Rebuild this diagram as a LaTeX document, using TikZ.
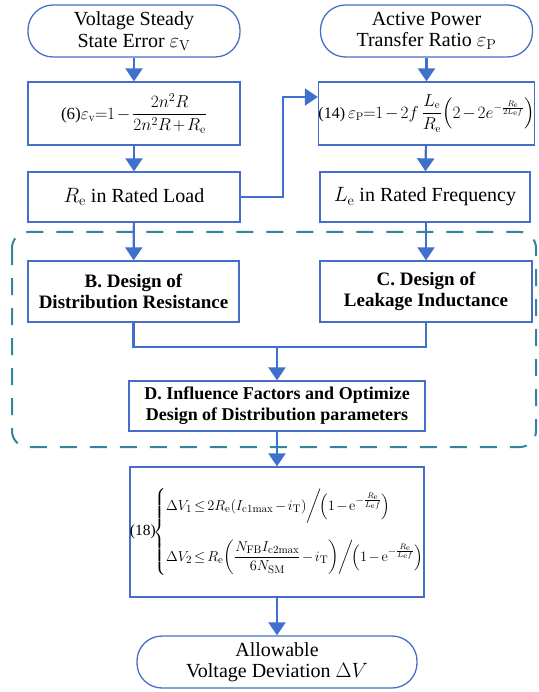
\documentclass[tikz,border=0pt]{standalone}
\usepackage{amsmath}
\usepackage[no-math]{fontspec}
\setmainfont{Liberation Serif}
\usetikzlibrary{arrows.meta, calc, positioning}

\definecolor{boxblue}{RGB}{70,110,200}
\definecolor{arrblue}{RGB}{62,112,204}
\definecolor{dashteal}{RGB}{49,133,156}

\newcommand{\tightmath}{\medmuskip=2mu\thickmuskip=2.5mu}

\tikzset{
  flowbox/.style={draw=boxblue, line width=1.3pt, inner sep=0pt, align=center,
    minimum width=212pt, minimum height=62pt, font=\fontsize{20}{21.5}\selectfont},
  termbox/.style={flowbox, minimum height=52pt, rounded corners=25pt},
  boldbox/.style={flowbox, font=\bfseries\fontsize{19}{21.5}\selectfont},
  arr/.style={arrblue, line width=2.2pt, -{Triangle[width=17pt,length=13pt]}},
  conn/.style={arrblue, line width=2.2pt},
  dashbox/.style={dashteal, line width=2pt, dash pattern=on 17pt off 13pt, rounded corners=16pt}
}

\begin{document}
\begin{tikzpicture}[x=1pt, y=-1pt]
  \useasboundingbox (0,0) rectangle (538,692);
  % dashed design region
  \draw[dashbox] (12,232) rectangle (536,447);
  % left column
  \node[termbox] (tv) at (134,31) {Voltage Steady\\State Error $\varepsilon_{\mathrm{V}}$};
  \node[flowbox, minimum height=63pt, font=\fontsize{17}{19}\selectfont\tightmath] (eqv) at (134,113.5)
    {(6)$\varepsilon_{\mathrm{v}}\!=\!1-\dfrac{2n^{2}R}{2n^{2}R+R_{\mathrm{e}}}$};
  \node[flowbox, minimum height=50pt] (rload) at (134,197) {$R_{\mathrm{e}}$ in Rated Load};
  % right column
  \node[termbox] (tp) at (426.5,31) {Active Power\\Transfer Ratio $\varepsilon_{\mathrm{P}}$};
  \node[flowbox, minimum width=213pt, minimum height=63pt, font=\fontsize{16}{18}\selectfont\tightmath] (eqp) at (426.5,113.5)
    {(14)$\,\varepsilon_{\mathrm{P}}\!=\!1-2f\,\dfrac{L_{\mathrm{e}}}{R_{\mathrm{e}}}\!\left(2-2e^{-\frac{R_{\mathrm{e}}}{2L_{\mathrm{e}}f}}\right)$};
  \node[flowbox, minimum width=210pt, minimum height=50pt] (lfreq) at (425,197) {$L_{\mathrm{e}}$ in Rated Frequency};
  % design steps
  \node[boldbox, minimum width=211pt, minimum height=61pt] (dres) at (133.5,291.5)
    {B. Design of\\Distribution Resistance};
  \node[boldbox, minimum width=212pt, minimum height=61pt] (dind) at (426,291.5)
    {C. Design of\\Leakage Inductance};
  \node[boldbox, minimum width=296pt, minimum height=50pt, font=\bfseries\fontsize{18}{21}\selectfont] (dopt) at (277,406)
    {D. Influence Factors and Optimize\\Design of Distribution parameters};
  % limits
  \node[flowbox, minimum width=288pt, minimum height=130pt, font=\fontsize{15.5}{17}\selectfont\tightmath] (eqd) at (277,532)
    {(18)$\!\left\{\begin{array}{@{}l@{}}
      \Delta V_{1}\le 2R_{\mathrm{e}}\!\left(I_{\mathrm{c1max}}-i_{\mathrm{T}}\right)\!\bigg/\!\!\left(1-\mathrm{e}^{-\frac{R_{\mathrm{e}}}{L_{\mathrm{e}}f}}\right)\\[25pt]
      \Delta V_{2}\le R_{\mathrm{e}}\!\left(\dfrac{N_{\mathrm{FB}}I_{\mathrm{c2max}}}{6N_{\mathrm{SM}}}-i_{\mathrm{T}}\right)\!\bigg/\!\!\left(1-\mathrm{e}^{-\frac{R_{\mathrm{e}}}{L_{\mathrm{e}}f}}\right)
    \end{array}\right.$};
  \node[termbox, minimum width=280pt] (tdv) at (277,662) {Allowable\\Voltage Deviation $\Delta V$};
  % connectors
  \draw[arr] (tv) -- (eqv);
  \draw[arr] (eqv) -- (rload);
  \draw[arr] (rload) -- (dres);
  \draw[arr] (tp) -- (eqp);
  \draw[arr] (eqp) -- (lfreq);
  \draw[arr] (lfreq.south -| dind.north) -- (dind);
  \coordinate (bend) at (283,97);
  \draw[arr] (rload.east) -| (bend) -- (bend -| eqp.west);
  \coordinate (join) at (277,347);
  \draw[conn] (dres.south) |- (join);
  \draw[conn] (dind.south) |- (join);
  \draw[arr] (join) -- (dopt.north);
  \draw[arr] (dopt) -- (eqd);
  \draw[arr] (eqd) -- (tdv);
\end{tikzpicture}
\end{document}
